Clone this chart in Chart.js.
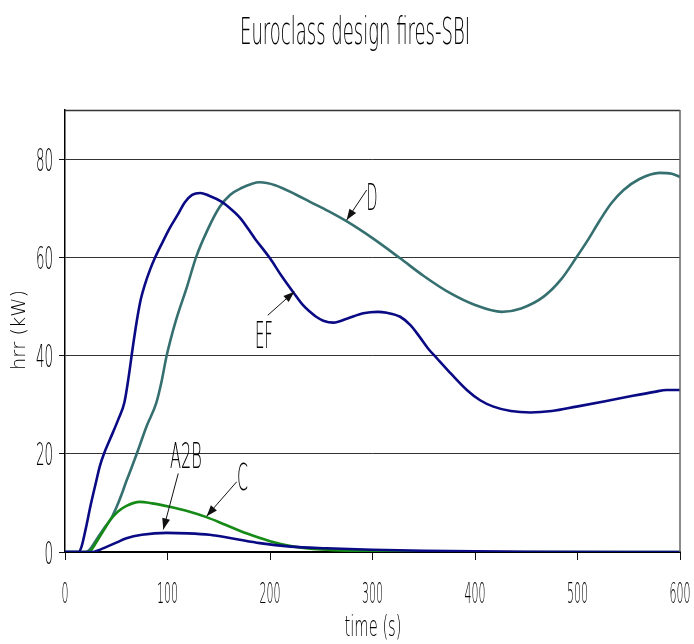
<!DOCTYPE html>
<html>
<head>
  <meta charset="UTF-8" />
  <title>Euroclass design fires-SBI</title>
  <script src="https://cdn.jsdelivr.net/npm/chart.js"></script>
  <style>
    body { margin: 0; background: #fff; }
    #wrap { width: 694px; height: 644px; position: relative; }
  </style>
</head>
<body>
  <div id="wrap"><canvas id="fireChart"></canvas></div>

  <script>
    // hrr curves (time in s, hrr in kW)
    const efTime = [0, 10, 13, 16, 20, 25, 30, 34, 38, 44, 52, 58, 62, 66, 70, 74, 78, 83, 88, 95, 102, 110, 117, 124, 132, 140, 153, 161, 171, 185, 200, 211, 223, 232, 239, 245, 252, 262, 275, 291, 305, 314, 327, 337, 346, 354, 363, 377, 392, 405, 418, 435, 454, 475, 499, 527, 554, 575, 587, 600];
    const efHrr  = [0, 0, 0, 1, 4.5, 9.5, 14, 17.5, 20, 23, 27, 30.5, 35.5, 41.5, 47, 51.5, 54.5, 57.5, 60, 63, 65.9, 68.7, 71.2, 72.7, 73.1, 72.6, 71.3, 70, 68, 63.9, 59.8, 56.3, 52.8, 50.3, 48.9, 47.9, 47.1, 46.7, 47.5, 48.6, 48.9, 48.7, 47.9, 46.2, 43.8, 41.5, 39.4, 36.2, 33, 30.9, 29.6, 28.7, 28.4, 28.7, 29.6, 30.7, 31.8, 32.6, 33, 33];

    const dTime = [0, 20, 24, 30, 38, 45, 50, 55, 60, 65, 70, 80, 89, 94, 99, 108, 119, 128, 140, 151, 161, 171, 190, 205, 226, 239, 257, 275, 300, 327, 350, 375, 400, 426, 445, 467, 484, 499, 511, 522, 533, 545, 560, 580, 592, 600];
    const dHrr  = [0, 0, 0.5, 2.3, 4.8, 6.8, 9, 11.6, 14.5, 17.2, 20, 25.8, 30.3, 34.5, 39.8, 47, 54, 60.1, 66, 70.3, 72.7, 74, 75.3, 74.7, 72.7, 71.3, 69.4, 67.3, 63.9, 59.8, 56.2, 52.8, 50.3, 48.9, 49.6, 52, 55.5, 60, 63.8, 67.6, 71, 73.7, 75.9, 77.2, 77, 76.4];

    const cTime = [0, 22, 26, 32, 38, 44, 52, 60, 73, 85, 102, 120, 138, 157, 177, 200, 223, 250, 300, 350, 400, 600];
    const cHrr  = [0, 0, 0.5, 2.5, 4.5, 6.5, 8.3, 9.4, 10.2, 9.9, 9.2, 8.3, 7.1, 5.5, 3.8, 2.2, 1.1, 0.5, 0.15, 0.05, 0, 0];

    const a2bTime = [0, 27, 32, 40, 50, 60, 75, 99, 120, 141, 165, 190, 220, 255, 300, 350, 400, 450, 600];
    const a2bHrr  = [0, 0, 0.3, 1, 1.9, 2.8, 3.5, 3.9, 3.8, 3.5, 2.7, 1.8, 1.1, 0.75, 0.45, 0.25, 0.12, 0.05, 0];

    const xTicks = [0, 100, 200, 300, 400, 500, 600];
    const yTicks = [0, 20, 40, 60, 80];

    // labels with arrows, in data units: [text, labelT, baselineV, fromT, fromV, toT, toV]
    const callouts = [
      ['D', 299.5, 69.6, 294.3, 73.7, 274.8, 67.6],
      ['EF', 194.1, 41.5, 197.8, 48.2, 223.7, 53.0],
      ['A2B', 118, 17.1, 110.5, 16.0, 95.9, 4.6],
      ['C', 173.2, 12.6, 167.5, 14.3, 138.2, 7.3]
    ];

    const toPoints = (t, v) => t.map((x, i) => ({ x: x, y: v[i] }));

    // squeeze text horizontally to look like the narrow plotter font
    function narrowText(ctx, text, x, y, size, width, align) {
      ctx.save();
      ctx.font = '200 ' + size + 'px "DejaVu Sans", "Liberation Sans", sans-serif';
      const w = ctx.measureText(text).width;
      ctx.translate(x, y);
      ctx.scale(width / w, 1);
      ctx.textAlign = align;
      ctx.textBaseline = 'alphabetic';
      ctx.fillStyle = '#000';
      ctx.fillText(text, 0, 0);
      ctx.restore();
    }

    const textPlugin = {
      id: 'plotText',
      afterDraw(chart) {
        const ctx = chart.ctx;
        const a = chart.chartArea;
        const xs = chart.scales.x;
        const ys = chart.scales.y;

        // frame top + right
        ctx.save();
        ctx.strokeStyle = '#333';
        ctx.lineWidth = 1.5;
        ctx.beginPath();
        ctx.moveTo(a.left, a.top + 0.5);
        ctx.lineTo(a.right, a.top + 0.5);
        ctx.stroke();
        ctx.strokeStyle = '#666';
        ctx.beginPath();
        ctx.moveTo(a.right, a.top);
        ctx.lineTo(a.right, a.bottom);
        ctx.stroke();
        ctx.restore();

        narrowText(ctx, 'Euroclass design fires-SBI', 355, 44, 37, 230, 'center');

        xTicks.forEach(v => {
          const s = String(v);
          narrowText(ctx, s, xs.getPixelForValue(v), a.bottom + 51, 28, 7 * s.length, 'center');
        });
        yTicks.forEach(v => {
          const s = String(v);
          narrowText(ctx, s, a.left - 12, ys.getPixelForValue(v) + 11.5, 32, 8.5 * s.length, 'right');
        });

        narrowText(ctx, 'time (s)', 373, 636, 28, 57, 'center');

        ctx.save();
        ctx.translate(25, 330);
        ctx.rotate(-Math.PI / 2);
        narrowText(ctx, 'hrr (kW)', 0, 0, 19, 80, 'center');
        ctx.restore();

        callouts.forEach(c => {
          const lx = xs.getPixelForValue(c[1]);
          const ly = ys.getPixelForValue(c[2]);
          const size = c[0] === 'A2B' ? 35 : 37;
          const width = c[0] === 'A2B' ? 32 : (c[0] === 'EF' ? 18 : 11);
          narrowText(ctx, c[0], lx, ly, size, width, 'center');

          const x1 = xs.getPixelForValue(c[3]), y1 = ys.getPixelForValue(c[4]);
          const x2 = xs.getPixelForValue(c[5]), y2 = ys.getPixelForValue(c[6]);
          const ang = Math.atan2(y2 - y1, x2 - x1);
          ctx.save();
          ctx.strokeStyle = '#111';
          ctx.fillStyle = '#111';
          ctx.lineWidth = 1;
          ctx.beginPath();
          ctx.moveTo(x1, y1);
          ctx.lineTo(x2, y2);
          ctx.stroke();
          ctx.beginPath();
          ctx.moveTo(x2, y2);
          ctx.lineTo(x2 - 11 * Math.cos(ang) + 4 * Math.sin(ang), y2 - 11 * Math.sin(ang) - 4 * Math.cos(ang));
          ctx.lineTo(x2 - 11 * Math.cos(ang) - 4 * Math.sin(ang), y2 - 11 * Math.sin(ang) + 4 * Math.cos(ang));
          ctx.closePath();
          ctx.fill();
          ctx.restore();
        });
      }
    };

    const lineStyle = (label, pts, color) => ({
      label: label,
      data: pts,
      borderColor: color,
      backgroundColor: color,
      borderWidth: 2.6,
      pointRadius: 0,
      cubicInterpolationMode: 'monotone',
      fill: false
    });

    new Chart(document.getElementById('fireChart'), {
      type: 'line',
      data: {
        datasets: [
          lineStyle('A2B', toPoints(a2bTime, a2bHrr), '#0a0a84'),
          lineStyle('EF', toPoints(efTime, efHrr), '#0a0a84'),
          lineStyle('C', toPoints(cTime, cHrr), '#168a16'),
          lineStyle('D', toPoints(dTime, dHrr), '#356f6f')
        ]
      },
      options: {
        responsive: true,
        maintainAspectRatio: false,
        animation: false,
        layout: { padding: { left: 59, right: 14, top: 110, bottom: 84 } },
        plugins: {
          legend: { display: false },
          tooltip: { enabled: false },
          title: { display: false }
        },
        scales: {
          x: {
            type: 'linear',
            min: 0,
            max: 600,
            ticks: { display: false, stepSize: 100 },
            grid: { drawOnChartArea: false, drawTicks: true, tickLength: 8, color: '#111', tickColor: '#111' },
            border: { color: '#000', width: 2 },
            afterFit: s => { s.height = 8; }
          },
          y: {
            min: 0,
            max: 90,
            ticks: { display: false, stepSize: 20, includeBounds: false },
            grid: { color: '#333', tickColor: '#111', lineWidth: 1, tickLength: 6 },
            border: { color: '#000', width: 1.5 },
            afterFit: s => { s.width = 6; }
          }
        }
      },
      plugins: [textPlugin]
    });
  </script>
</body>
</html>
